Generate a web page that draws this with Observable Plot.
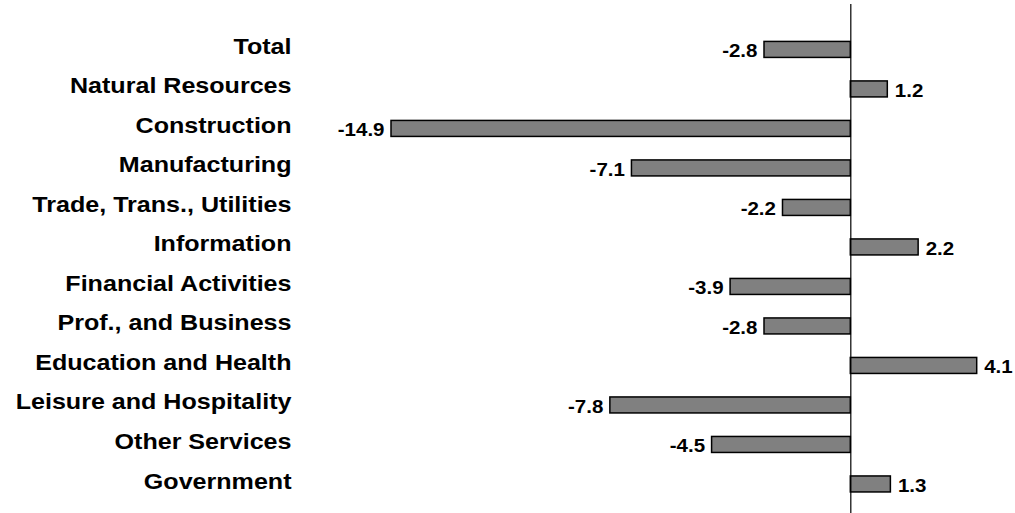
<!DOCTYPE html>
<html>
<head>
<meta charset="utf-8">
<script src="https://cdn.jsdelivr.net/npm/d3@7"></script>
<script src="https://cdn.jsdelivr.net/npm/@observablehq/plot@0.6"></script>
<style>
  html, body { margin: 0; padding: 0; background: white; }
</style>
</head>
<body>
<div id="chart"></div>
<script>
const categories = [
  "Total",
  "Natural Resources",
  "Construction",
  "Manufacturing",
  "Trade, Trans., Utilities",
  "Information",
  "Financial Activities",
  "Prof., and Business",
  "Education and Health",
  "Leisure and Hospitality",
  "Other Services",
  "Government"
];
const values = [-2.8, 1.2, -14.9, -7.1, -2.2, 2.2, -3.9, -2.8, 4.1, -7.8, -4.5, 1.3];

const data = categories.map((c, i) => ({category: c, value: values[i]}));
const fmt = d => d.value.toFixed(1);

const chart = Plot.plot({
  width: 1015,
  height: 513,
  marginLeft: 391,
  marginRight: 38.3,
  marginTop: 4,
  marginBottom: 0,
  x: {domain: d3.extent(values), axis: null},
  y: {domain: categories, paddingInner: 0.595, paddingOuter: 0.74, align: 0.64, round: false, axis: null, label: null},
  style: {fontFamily: "'Liberation Sans', Arial, sans-serif", background: "white", color: "black"},
  marks: [
    Plot.barX(data, {x: "value", y: "category", fill: "#808080", stroke: "black", strokeWidth: 1.5}),
    Plot.ruleX([0], {stroke: "black", strokeWidth: 1.2}),
    Plot.axisY({tickSize: 0, tickPadding: 100, fontSize: 22, fontWeight: "bold", dy: -3, fill: "black", label: null}),
    Plot.text(data.filter(d => d.value < 0), {
      x: "value", y: "category", text: fmt, textAnchor: "end",
      dx: -7, dy: 1.6, fontSize: 18, fontWeight: "bold", fill: "black"
    }),
    Plot.text(data.filter(d => d.value >= 0), {
      x: "value", y: "category", text: fmt, textAnchor: "start",
      dx: 7, dy: 1.6, fontSize: 18, fontWeight: "bold", fill: "black"
    })
  ]
});
// the reference lettering is horizontally widened; widen each label about its anchor
d3.select(chart).selectAll("text").each(function() {
  const t = this.getAttribute("transform") || "";
  this.setAttribute("transform", t + " scale(1.14,1)");
});
document.getElementById("chart").appendChild(chart);
</script>
</body>
</html>
